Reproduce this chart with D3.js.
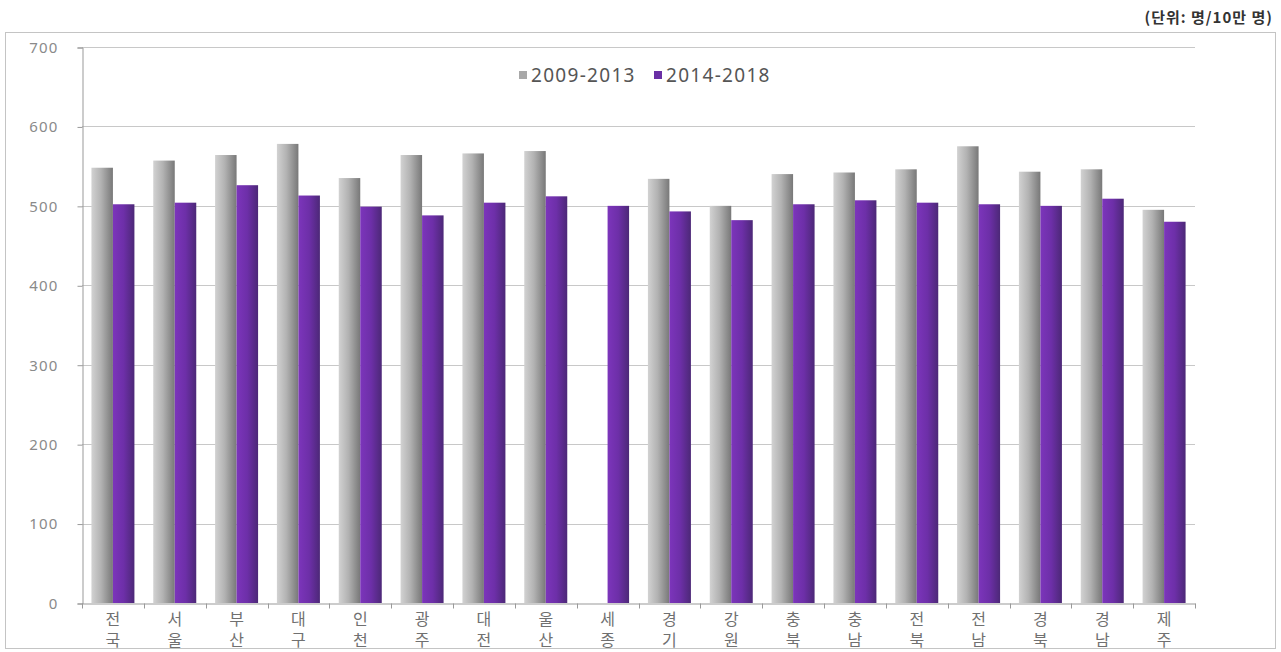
<!DOCTYPE html>
<html>
<head>
<meta charset="utf-8">
<script src="https://cdn.jsdelivr.net/npm/d3@7"></script>
<style>
  html, body { margin: 0; padding: 0; background: #fff; }
  svg { display: block; }
</style>
</head>
<body>
<svg id="chart" width="1281" height="652"></svg>
<script>
// Regional rates per 100,000 people
const regions = ["전국","서울","부산","대구","인천","광주","대전","울산","세종","경기","강원","충북","충남","전북","전남","경북","경남","제주"];
const series = ["2009-2013", "2014-2018"];
const values2009 = [548, 557, 564, 578, 535, 564, 566, 569, null, 534, 500, 540, 542, 546, 575, 543, 546, 495];
const values2014 = [502, 504, 526, 513, 499, 488, 504, 512, 500, 493, 482, 502, 507, 504, 502, 500, 509, 480];
const yTicks = [0, 100, 200, 300, 400, 500, 600, 700];
const unitLabel = "(단위: 명/10만 명)";

const svg = d3.select("#chart");
const margin = { left: 82, right: 1195, top: 47, bottom: 603 };
const fontNum = "'Noto Sans', 'DejaVu Sans', sans-serif";
const fontKr = "'Noto Sans CJK KR', sans-serif";

// Gradients
const defs = svg.append("defs");
const gGray = defs.append("linearGradient").attr("id", "gradGray").attr("x1", "0").attr("x2", "1").attr("y1", "0").attr("y2", "0");
gGray.append("stop").attr("offset", "0").attr("stop-color", "#d2d2d2");
gGray.append("stop").attr("offset", "0.45").attr("stop-color", "#b2b2b2");
gGray.append("stop").attr("offset", "1").attr("stop-color", "#787878");
const gPurple = defs.append("linearGradient").attr("id", "gradPurple").attr("x1", "0").attr("x2", "1").attr("y1", "0").attr("y2", "0");
gPurple.append("stop").attr("offset", "0").attr("stop-color", "#7c35bb");
gPurple.append("stop").attr("offset", "0.5").attr("stop-color", "#6d2fa8");
gPurple.append("stop").attr("offset", "1").attr("stop-color", "#4c2877");
const fills = ["url(#gradGray)", "url(#gradPurple)"];
const legendFills = ["#a8a8a8", "#6a2fa5"];

// Outer frame
svg.append("rect").attr("x", 5.5).attr("y", 32.5).attr("width", 1270).attr("height", 616)
  .attr("fill", "none").attr("stroke", "#c4c4c4").attr("stroke-width", 1);

// Unit label
svg.append("text").attr("x", 1273).attr("y", 23).attr("text-anchor", "end")
  .attr("font-family", fontKr).attr("font-size", 15).attr("font-weight", "bold")
  .attr("letter-spacing", 1).attr("fill", "#333").text(unitLabel);

// Scales
const x0 = d3.scaleBand().domain(regions).range([margin.left, margin.right]).padding(0);
const pad = (x0.bandwidth() - 43) / 2;
const x1 = d3.scaleBand().domain(series).range([pad, x0.bandwidth() - pad]).padding(0);
const y = d3.scaleLinear().domain([0, 700]).range([margin.bottom, margin.top]);

// Gridlines
svg.append("g").selectAll("line").data(yTicks.filter(d => d > 0)).join("line")
  .attr("x1", margin.left).attr("x2", margin.right)
  .attr("y1", d => Math.round(y(d)) + 0.5).attr("y2", d => Math.round(y(d)) + 0.5)
  .attr("stroke", "#c8c8c8").attr("stroke-width", 1);

// Y axis
const yAxis = svg.append("g").attr("transform", `translate(${margin.left + 0.5},0.5)`)
  .call(d3.axisLeft(y).tickValues(yTicks).tickSize(5).tickPadding(19).tickFormat(d3.format("d")));
yAxis.select(".domain").attr("stroke", "#999");
yAxis.selectAll(".tick line").attr("stroke", "#999");
yAxis.selectAll("text").attr("font-family", fontNum).attr("font-size", 15)
  .attr("letter-spacing", 1.2).attr("fill", "#8a8a8a");

// Bars
const groups = svg.append("g").selectAll("g").data(regions).join("g")
  .attr("transform", d => `translate(${x0(d)},0)`);
groups.selectAll("rect").data((d, i) => [
    { s: 0, v: values2009[i] },
    { s: 1, v: values2014[i] }
  ].filter(o => o.v != null)).join("rect")
  .attr("x", d => x1(series[d.s]))
  .attr("width", x1.bandwidth())
  .attr("y", d => y(d.v))
  .attr("height", d => y(0) - y(d.v))
  .attr("fill", d => fills[d.s]);

// X axis
const xAxis = svg.append("g").attr("transform", `translate(0,${margin.bottom + 0.5})`)
  .call(d3.axisBottom(x0).tickSize(0).tickFormat(""));
xAxis.select(".domain").attr("stroke", "#999");
// Category separator ticks
const sep = regions.map(r => x0(r)).concat([margin.right]);
xAxis.append("g").selectAll("line").data(sep).join("line")
  .attr("x1", d => Math.round(d) + 0.5).attr("x2", d => Math.round(d) + 0.5)
  .attr("y1", 0).attr("y2", 5).attr("stroke", "#999");

// Category labels, set vertically (one syllable per line)
svg.append("g").selectAll("text").data(regions).join("text")
  .attr("x", d => x0(d) + x0.bandwidth() / 2)
  .attr("y", 611)
  .style("writing-mode", "vertical-rl")
  .attr("font-family", fontKr).attr("font-size", 16).attr("letter-spacing", 5)
  .attr("fill", "#707070")
  .text(d => d);

// Legend
const legend = svg.append("g").attr("transform", "translate(519,75)");
const legendItems = [{ x: 0, i: 0 }, { x: 135, i: 1 }];
legendItems.forEach(it => {
  legend.append("rect").attr("x", it.x).attr("y", -4).attr("width", 8).attr("height", 8)
    .attr("fill", legendFills[it.i]);
  legend.append("text").attr("x", it.x + 12).attr("y", 7)
    .attr("font-family", fontNum).attr("font-size", 19).attr("letter-spacing", 1.3)
    .attr("fill", "#555").text(series[it.i]);
});
</script>
</body>
</html>
